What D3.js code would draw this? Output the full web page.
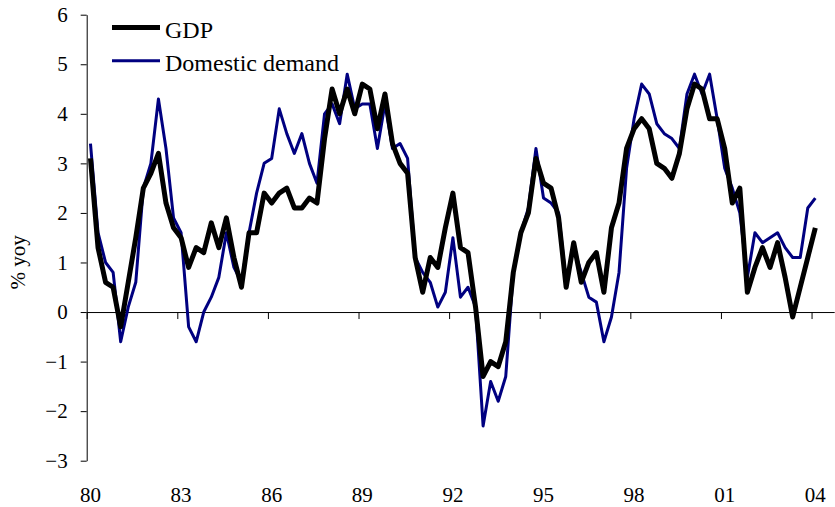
<!DOCTYPE html>
<html><head><meta charset="utf-8">
<script src="https://cdn.jsdelivr.net/npm/d3@7/dist/d3.min.js"></script>
<style>html,body{margin:0;padding:0;background:#fff;} svg{display:block;}</style>
</head><body>
<svg id="chart" width="835" height="507"></svg>
<script>
// Quarterly data, 1980Q1 .. 2004Q1 (97 quarters), % yoy
const gdp = [3.1,1.3,0.6,0.5,-0.3,0.6,1.5,2.5,2.8,3.2,2.2,1.7,1.5,0.9,1.3,1.2,1.8,1.3,1.9,1.1,
  0.5,1.6,1.6,2.4,2.2,2.4,2.5,2.1,2.1,2.3,2.2,3.5,4.5,4.0,4.5,4.0,4.6,4.5,3.7,4.4,
  3.4,3.0,2.8,1.1,0.4,1.1,0.9,1.7,2.4,1.3,1.2,0.1,-1.3,-1.0,-1.1,-0.6,0.8,1.6,2.0,3.1,
  2.6,2.5,1.9,0.5,1.4,0.6,1.0,1.2,0.4,1.7,2.2,3.3,3.7,3.9,3.7,3.0,2.9,2.7,3.2,4.1,
  4.6,4.5,3.9,3.9,3.3,2.2,2.5,0.4,0.9,1.3,0.9,1.4,0.7,-0.1,0.5,1.1,1.7];
const domesticDemand = [3.4,1.6,1.0,0.8,-0.6,0.1,0.6,2.5,3.0,4.3,3.3,1.9,1.6,-0.3,-0.6,0.0,0.3,0.7,1.6,0.9,
  0.6,1.6,2.4,3.0,3.1,4.1,3.6,3.2,3.6,3.0,2.6,4.0,4.2,3.8,4.8,4.1,4.2,4.2,3.3,4.2,
  3.3,3.4,3.1,1.1,0.8,0.6,0.1,0.4,1.5,0.3,0.5,0.1,-2.3,-1.4,-1.8,-1.3,0.8,1.6,2.1,3.3,
  2.3,2.2,2.0,0.6,1.3,0.8,0.3,0.2,-0.6,-0.1,0.8,2.9,3.9,4.6,4.4,3.8,3.6,3.5,3.3,4.4,
  4.8,4.4,4.8,3.9,2.9,2.5,2.0,0.7,1.6,1.4,1.5,1.6,1.3,1.1,1.1,2.1,2.3];
const xTickLabels = ["80","83","86","89","92","95","98","01","04"];
const yTicks = [-3,-2,-1,0,1,2,3,4,5,6];
const seriesNames = ["GDP","Domestic demand"];
const nCategories = 99;

const svg = d3.select("#chart");
const FONT = "'Liberation Serif','Times New Roman',serif";

const x = d3.scaleLinear().domain([-0.5, nCategories - 0.5]).range([86.7, 834.2]);
const y = d3.scaleLinear().domain([-3, 6]).range([460.7, 14.7]);

// Y axis
const yAxis = d3.axisLeft(y).tickValues(yTicks).tickSize(6).tickSizeOuter(0).tickPadding(13).tickFormat(d3.format("d"));
const gy = svg.append("g").attr("transform", `translate(${x(-0.5)},0)`).call(yAxis);
gy.select(".domain").attr("stroke", "#000").attr("stroke-width", 1);
gy.selectAll(".tick line").attr("stroke", "#000");
gy.selectAll(".tick text").attr("font-family", FONT).attr("font-size", 21).attr("fill", "#000");

// X axis at zero line: ticks between categories every 12 quarters, labels under category
const tickPos = xTickLabels.map((_, k) => k * 12 - 0.5);
const xAxis = d3.axisBottom(x).tickValues(tickPos).tickSize(7).tickSizeOuter(0).tickFormat("");
const gx = svg.append("g").attr("transform", `translate(0,${y(0)})`).call(xAxis);
gx.select(".domain").attr("stroke", "#000").attr("stroke-width", 1);
gx.selectAll(".tick line").attr("stroke", "#000");

svg.append("g").selectAll("text").data(xTickLabels).join("text")
  .attr("x", (d, k) => x(k * 12))
  .attr("y", 502)
  .attr("text-anchor", "middle")
  .attr("font-family", FONT).attr("font-size", 21).attr("fill", "#000")
  .text(d => d);

// Y title
svg.append("text")
  .attr("transform", `translate(25,${y(1.0)}) rotate(-90)`)
  .attr("text-anchor", "middle")
  .attr("font-family", FONT).attr("font-size", 21).attr("fill", "#000")
  .text("% yoy");

// Lines
const line = d3.line().x((d, i) => x(i)).y(d => y(d)).curve(d3.curveLinear);
svg.append("path").datum(domesticDemand).attr("d", line)
  .attr("fill", "none").attr("stroke", "#000080").attr("stroke-width", 3)
  .attr("stroke-linejoin", "round");
svg.append("path").datum(gdp).attr("d", line)
  .attr("fill", "none").attr("stroke", "#000").attr("stroke-width", 5)
  .attr("stroke-linejoin", "round");

// Legend
const legend = svg.append("g");
const legendItems = [
  {name: seriesNames[0], color: "#000", w: 5, yy: 27.5, ty: 37.5},
  {name: seriesNames[1], color: "#000080", w: 3, yy: 60.7, ty: 70.5}
];
legendItems.forEach(it => {
  legend.append("line").attr("x1", 112).attr("x2", 160).attr("y1", it.yy).attr("y2", it.yy)
    .attr("stroke", it.color).attr("stroke-width", it.w);
  legend.append("text").attr("x", 165).attr("y", it.ty)
    .attr("font-family", FONT).attr("font-size", 24).attr("fill", "#000").text(it.name);
});
</script>
</body></html>
